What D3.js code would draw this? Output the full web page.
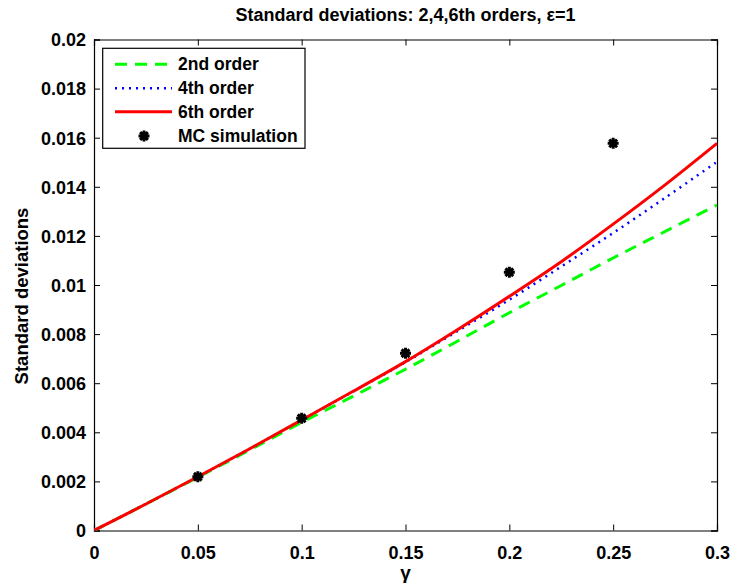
<!DOCTYPE html>
<html><head><meta charset="utf-8">
<script src="https://cdn.jsdelivr.net/npm/d3@7"></script>
<style>body{margin:0;background:#fff}svg{display:block}text{font-family:"Liberation Sans",Arial,sans-serif;font-weight:bold}</style>
</head><body>
<svg id="c" width="735" height="588"></svg>
<script>
const gammaVals = [0,0.025,0.05,0.075,0.1,0.125,0.15,0.175,0.2,0.225,0.25,0.275,0.3];
const order2 = [0,0.00108,0.00217,0.00328,0.00440,0.00548,0.00657,0.00771,0.00887,0.00998,0.0111,0.01218,0.01326];
const order4 = [0,0.00108,0.00219,0.00333,0.00450,0.00567,0.00686,0.00812,0.00940,0.01075,0.01212,0.01355,0.01502];
const order6 = [0,0.00108,0.00219,0.00333,0.00450,0.00568,0.00688,0.00818,0.00954,0.01095,0.01248,0.01408,0.01577];
const mcGamma = [0.05,0.1,0.15,0.2,0.25];
const mcVals = [0.00219,0.00457,0.00722,0.01052,0.01577];
const xTicks = [0,0.05,0.1,0.15,0.2,0.25,0.3];
const yTicks = [0,0.002,0.004,0.006,0.008,0.01,0.012,0.014,0.016,0.018,0.02];
const legendLabels = ["2nd order","4th order","6th order","MC simulation"];

const L=94,R=717,T=39.5,B=530.5;
const svg=d3.select("#c");
const x=d3.scaleLinear().domain([0,0.3]).range([L,R]);
const y=d3.scaleLinear().domain([0,0.02]).range([B,T]);
const fmt=d=>String(+d.toFixed(4));

svg.append("clipPath").attr("id","cp").append("rect").attr("x",L).attr("y",T).attr("width",R-L).attr("height",B-T);

// axes
const ax=d3.axisBottom(x).tickValues(xTicks).tickSize(-6).tickPadding(12).tickFormat(fmt);
const gx=svg.append("g").attr("transform",`translate(0,${B})`).call(ax);
const ay=d3.axisLeft(y).tickValues(yTicks).tickSize(-6).tickPadding(8).tickFormat(fmt);
const gy=svg.append("g").attr("transform",`translate(${L},0)`).call(ay);
const gxt=svg.append("g").attr("transform",`translate(0,${T})`).call(d3.axisTop(x).tickValues(xTicks).tickSize(-6).tickFormat(""));
const gyr=svg.append("g").attr("transform",`translate(${R},0)`).call(d3.axisRight(y).tickValues(yTicks).tickSize(-6).tickFormat(""));
[gx,gy,gxt,gyr].forEach(g=>{g.select(".domain").attr("stroke","#000").attr("stroke-width",1.2);g.selectAll(".tick line").attr("stroke","#000");g.selectAll("text").attr("fill","#000").style("font-size","18px").style("font-weight","bold")});
gx.selectAll(".tick text").attr("dy","0.9em");
gy.selectAll(".tick text").attr("dy","0.35em");

const line=d3.line().x((d,i)=>x(gammaVals[i])).y(d=>y(d)).curve(d3.curveCatmullRom);
const plot=svg.append("g").attr("clip-path","url(#cp)");
plot.append("path").attr("d",line(order2)).attr("fill","none").attr("stroke","#00ff00").attr("stroke-width",3).attr("stroke-dasharray","12,8");
plot.append("path").attr("d",line(order4)).attr("fill","none").attr("stroke","#0000ff").attr("stroke-width",2.5).attr("stroke-dasharray","2,5");
plot.append("path").attr("d",line(order6)).attr("fill","none").attr("stroke","#ff0000").attr("stroke-width",3);

const star=(cx,cy,r)=>{let p="";for(let k=0;k<4;k++){const a=k*Math.PI/4;const dx=r*Math.cos(a),dy=r*Math.sin(a);p+=`M${cx-dx},${cy-dy}L${cx+dx},${cy+dy}`;}return p;};
mcGamma.forEach((g,i)=>{
  svg.append("path").attr("d",star(x(g),y(mcVals[i]),5.5)).attr("stroke","#000").attr("stroke-width",3).attr("fill","none");
  svg.append("circle").attr("cx",x(g)).attr("cy",y(mcVals[i])).attr("r",3.5).attr("fill","#000");
});

// legend
svg.append("rect").attr("x",102.7).attr("y",48.3).attr("width",202.3).attr("height",100).attr("fill","#fff").attr("stroke","#000").attr("stroke-width",1.2);
const rows=[64.3,88.3,111.7,136];
const styles=[{c:"#00ff00",w:3,d:"12,8"},{c:"#0000ff",w:2.5,d:"2,5"},{c:"#ff0000",w:3,d:null}];
styles.forEach((s,i)=>{
  const l=svg.append("line").attr("x1",115).attr("x2",172).attr("y1",rows[i]).attr("y2",rows[i]).attr("stroke",s.c).attr("stroke-width",s.w);
  if(s.d) l.attr("stroke-dasharray",s.d);
});
svg.append("path").attr("d",star(144,rows[3],5.5)).attr("stroke","#000").attr("stroke-width",3);
svg.append("circle").attr("cx",144).attr("cy",rows[3]).attr("r",3.5).attr("fill","#000");
legendLabels.forEach((t,i)=>svg.append("text").attr("x",178).attr("y",rows[i]).attr("dy","0.35em").style("font-size","17.5px").text(t));

svg.append("text").attr("x",405.5).attr("y",21).attr("text-anchor","middle").style("font-size","18px").text("Standard deviations: 2,4,6th orders, ε=1");
svg.append("text").attr("transform","translate(28,296) rotate(-90)").attr("text-anchor","middle").style("font-size","18.5px").text("Standard deviations");
svg.append("text").attr("x",405.5).attr("y",579).attr("text-anchor","middle").style("font-size","19px").text("γ");
</script>
</body></html>
